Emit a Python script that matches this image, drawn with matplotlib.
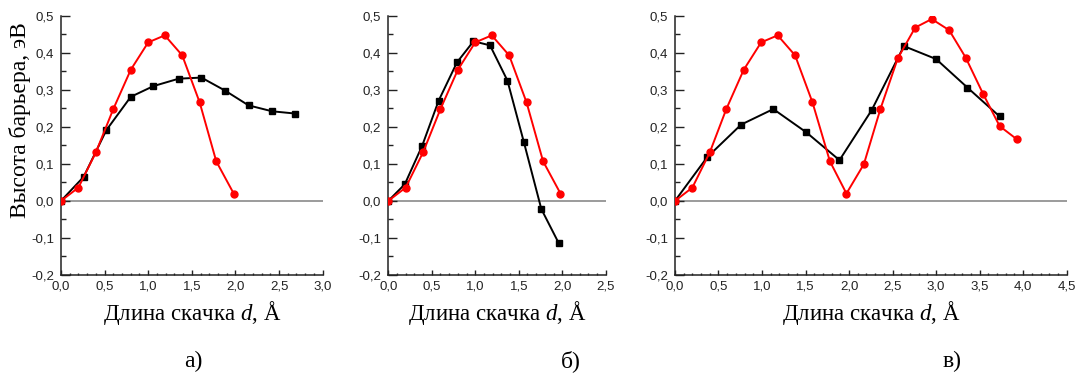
import numpy as np
import matplotlib.pyplot as plt
from matplotlib.ticker import MultipleLocator, FuncFormatter

# panel а
a_black_x = [0, 0.26, 0.52, 0.80, 1.06, 1.35, 1.61, 1.88, 2.15, 2.42, 2.68]
a_black_y = [0, 0.065, 0.191, 0.281, 0.310, 0.330, 0.333, 0.298, 0.258, 0.242, 0.236]
a_red_x = [0, 0.2, 0.4, 0.6, 0.8, 1.0, 1.19, 1.39, 1.59, 1.78, 1.98]
a_red_y = [0, 0.036, 0.131, 0.248, 0.354, 0.428, 0.447, 0.393, 0.266, 0.107, 0.020]

# panel б
b_black_x = [0, 0.19, 0.39, 0.58, 0.79, 0.98, 1.17, 1.37, 1.56, 1.76, 1.96]
b_black_y = [0, 0.045, 0.149, 0.271, 0.374, 0.431, 0.420, 0.325, 0.158, -0.022, -0.114]
b_red_x = [0, 0.2, 0.4, 0.6, 0.8, 1.0, 1.19, 1.39, 1.59, 1.78, 1.98]
b_red_y = [0, 0.036, 0.131, 0.248, 0.354, 0.428, 0.447, 0.393, 0.266, 0.107, 0.020]

# panel в
c_black_x = [0, 0.37, 0.76, 1.13, 1.51, 1.89, 2.26, 2.63, 3.00, 3.36, 3.73]
c_black_y = [0, 0.118, 0.206, 0.248, 0.185, 0.110, 0.245, 0.418, 0.383, 0.306, 0.228]
c_red_x = [0, 0.2, 0.4, 0.59, 0.79, 0.99, 1.18, 1.38, 1.58, 1.78, 1.97,
           2.17, 2.36, 2.56, 2.76, 2.95, 3.15, 3.34, 3.54, 3.73, 3.93]
c_red_y = [0, 0.036, 0.131, 0.248, 0.354, 0.428, 0.447, 0.393, 0.266, 0.107, 0.020,
           0.099, 0.248, 0.385, 0.468, 0.491, 0.461, 0.387, 0.289, 0.202, 0.166]

x_limits = [3.0, 2.5, 4.5]
panel_labels = ["а)", "б)", "в)"]
xlabel = "Длина скачка $d$, Å"
ylabel = "Высота барьера, эВ"

plt.rcParams["mathtext.fontset"] = "custom"
plt.rcParams["mathtext.rm"] = "Liberation Serif"
plt.rcParams["mathtext.it"] = "Liberation Serif:italic"

serif = "Liberation Serif"
tick_color = "#222222"


def comma_fmt(v, pos):
    return f"{v:.1f}".replace(".", ",")


def style_axis(ax, xmax):
    ax.set_xlim(0, xmax)
    ax.set_ylim(-0.2, 0.5)
    for side in ("top", "right"):
        ax.spines[side].set_visible(False)
    for side in ("left", "bottom"):
        ax.spines[side].set_linewidth(1.1)
        ax.spines[side].set_color(tick_color)
    ax.axhline(0, color="#808080", linewidth=1.1, zorder=1)

    ax.xaxis.set_major_locator(MultipleLocator(0.5))
    ax.xaxis.set_minor_locator(MultipleLocator(0.1))
    ax.yaxis.set_major_locator(MultipleLocator(0.1))
    ax.yaxis.set_minor_locator(MultipleLocator(0.05))
    ax.xaxis.set_major_formatter(FuncFormatter(comma_fmt))
    ax.yaxis.set_major_formatter(FuncFormatter(comma_fmt))

    ax.tick_params(axis="y", which="major", direction="in", length=6.5, width=1.0,
                   color=tick_color, pad=5)
    ax.tick_params(axis="y", which="minor", direction="in", length=3.4, width=1.0,
                   color=tick_color)
    ax.tick_params(axis="x", which="major", direction="in", length=3.5, width=1.0,
                   color=tick_color, pad=4)
    ax.tick_params(axis="x", which="minor", direction="in", length=1.8, width=1.0,
                   color=tick_color)
    ax.tick_params(which="both", labelsize=9.5, labelcolor=tick_color)
    for lbl in ax.get_xticklabels() + ax.get_yticklabels():
        lbl.set_fontfamily("Liberation Sans")


fig = plt.figure(figsize=(10.77, 3.76), dpi=100)

bottom = 0.2686
height = 0.6896
lefts = [0.0566, 0.3605, 0.6267]
widths = [0.2430, 0.2019, 0.3637]

panels = [
    (a_black_x, a_black_y, a_red_x, a_red_y),
    (b_black_x, b_black_y, b_red_x, b_red_y),
    (c_black_x, c_black_y, c_red_x, c_red_y),
]

label_x = [193 / 1077, 571 / 1077, 952 / 1077]

for i, (bx, by, rx, ry) in enumerate(panels):
    ax = fig.add_axes([lefts[i], bottom, widths[i], height])
    ax.plot(bx, by, color="black", marker="s", markersize=4.5, linewidth=1.4, zorder=3)
    ax.plot(rx, ry, color="#ff0000", marker="o", markersize=5, linewidth=1.4, zorder=4)
    style_axis(ax, x_limits[i])

    cx = lefts[i] + widths[i] / 2
    fig.text(cx, 0.1676, xlabel, ha="center", va="center", fontsize=16.5, family=serif)
    fig.text(label_x[i], 0.040, panel_labels[i], ha="center", va="center",
             fontsize=17, family=serif)

fig.text(0.0186, 0.681, ylabel, rotation=90, ha="center", va="center",
         fontsize=17, family=serif)

fig.savefig("out.png", dpi=100)
plt.close(fig)
